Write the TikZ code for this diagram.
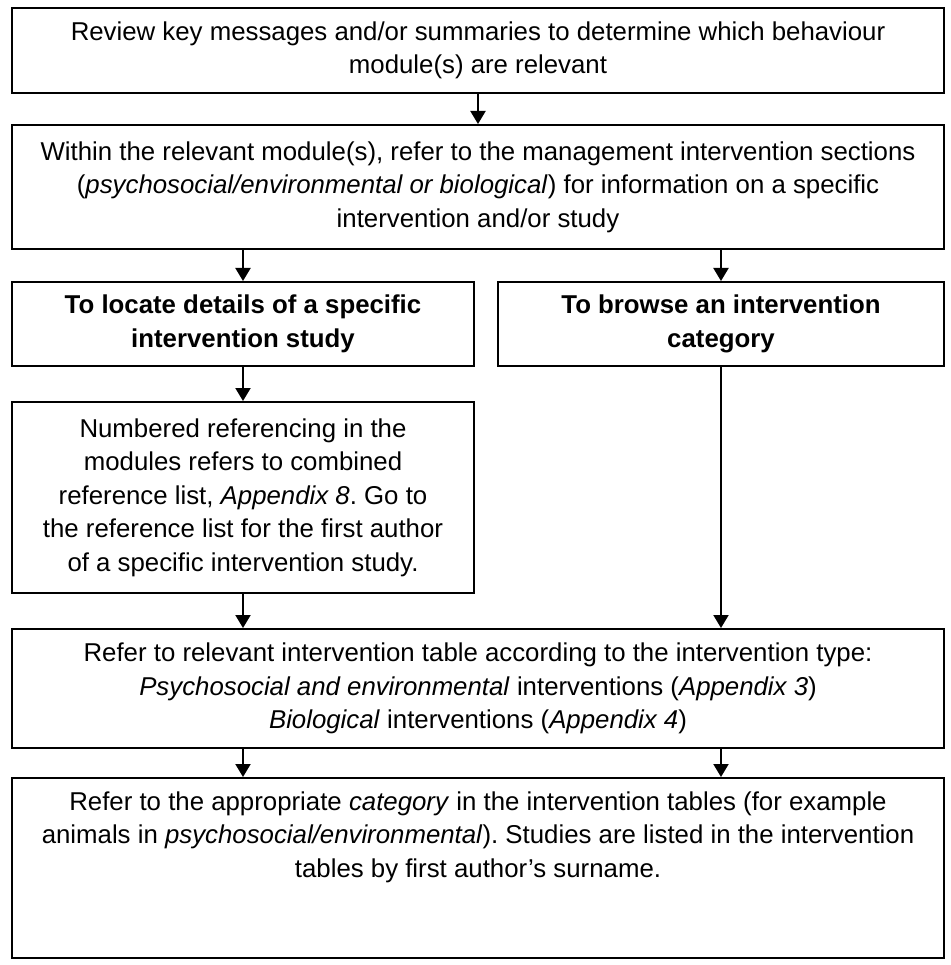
\documentclass[tikz,border=0pt]{standalone}
\usepackage{fontspec}
\setmainfont{Liberation Sans}
\usetikzlibrary{arrows.meta}
\tikzset{>={Triangle[length=13pt,width=15pt]}}
\newcommand{\boxfont}{\fontsize{25.8}{33.5}\selectfont}
\frenchspacing

\begin{document}
\begin{tikzpicture}[x=1pt,y=-1pt,line width=2pt,font=\boxfont]

\tikzstyle{box}=[draw,inner sep=0pt,align=center]
\tikzstyle{wide}=[box,minimum width=932pt]
\tikzstyle{head}=[box,font=\boxfont\bfseries]
\tikzstyle{arr}=[->]

\useasboundingbox (0,0) rectangle (950,965);

\node[wide,minimum height=85pt] (review) at (478,50.5)
 {Review key messages and/or summaries to determine which behaviour\\
  module(s) are relevant};
\node[wide,minimum height=124pt] (within) at (478,187)
 {Within the relevant module(s), refer to the management intervention sections\\
  (\textit{psychosocial/environmental or biological}) for information on a specific\\
  intervention and/or study};

\node[head,minimum width=462pt,minimum height=84pt] (locate) at (243,324)
 {To locate details of a specific\\ intervention study};
\node[head,minimum width=446pt,minimum height=84pt] (browse) at (721,324)
 {To browse an intervention\\ category};

\node[box,minimum width=462pt,minimum height=191pt] (numbered) at (243,497.5)
 {Numbered referencing in the\\
  modules refers to combined\\
  reference list, \textit{Appendix 8}. Go to\\
  the reference list for the first author\\
  of a specific intervention study.};

\node[wide,minimum height=119pt] (table) at (478,688.5)
 {Refer to relevant intervention table according to the intervention type:\\
  \textit{Psychosocial and environmental} interventions (\textit{Appendix 3})\\
  \textit{Biological} interventions (\textit{Appendix 4})};
\node[wide,minimum height=180pt] (category) at (478,868)
 {Refer to the appropriate \textit{category} in the intervention tables (for example\\
  animals in \textit{psychosocial/environmental}). Studies are listed in the intervention\\
  tables by first author’s surname.\\ \mbox{}\\ \mbox{}};

\draw[arr] (review) -- (within);
\draw[arr] (within.south -| locate) -- (locate);
\draw[arr] (within.south -| browse) -- (browse);
\draw[arr] (locate) -- (numbered);
\draw[arr] (numbered) -- (table.north -| numbered);
\draw[arr] (browse) -- (table.north -| browse);
\draw[arr] (table.south -| numbered) -- (category.north -| numbered);
\draw[arr] (table.south -| browse) -- (category.north -| browse);
\end{tikzpicture}
\end{document}
